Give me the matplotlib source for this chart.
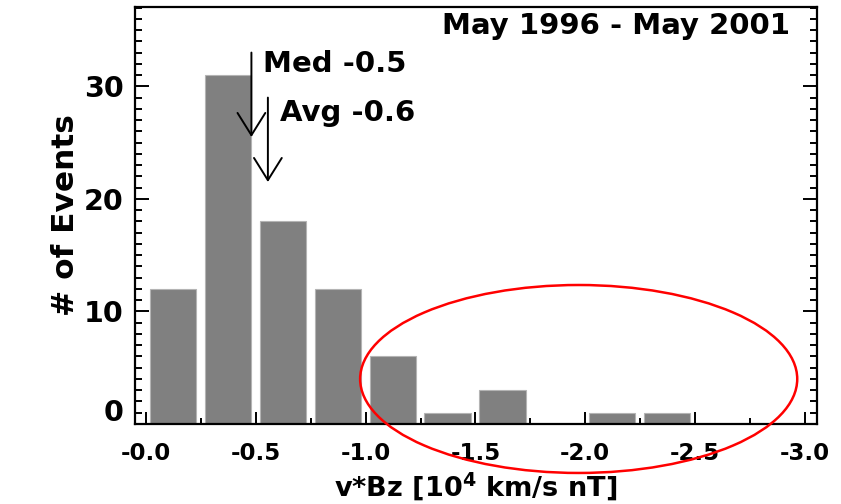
import matplotlib
matplotlib.use("Agg")
import matplotlib.pyplot as plt
from matplotlib.patches import Ellipse
from matplotlib.ticker import FixedLocator, MultipleLocator
import numpy as np

# ---- data ----
bin_edges = [0.0, -0.25, -0.5, -0.75, -1.0, -1.25, -1.5, -1.75, -2.0, -2.25, -2.5, -2.75]
counts = [12, 31, 18, 12, 6, 1, 3, 0, 1, 1, 0, 0]
xtick_vals = [0.0, -0.5, -1.0, -1.5, -2.0, -2.5, -3.0]
xtick_labels = ["-0.0", "-0.5", "-1.0", "-1.5", "-2.0", "-2.5", "-3.0"]
ytick_vals = [10, 20, 30]
ytick_labels = ["10", "20", "30"]
median_val = -0.48
avg_val = -0.555
title_text = "May 1996 - May 2001"

FONT = "DejaVu Sans"
fig = plt.figure(figsize=(8.41, 5.04), dpi=100)
ax = fig.add_axes([135/841, (504-424)/504, (817-135)/841, (424-7)/504])

centers = [e - 0.123 for e in bin_edges]
ax.bar(centers, counts, width=0.21, color="#808080", edgecolor="#b4b4b4",
       linewidth=0.8, zorder=1)

ax.set_xlim(0.05, -3.055)
ax.set_ylim(0, 37.05)

# ticks
ax.xaxis.set_major_locator(FixedLocator(xtick_vals))
ax.xaxis.set_minor_locator(MultipleLocator(0.25))
ax.set_xticklabels(xtick_labels)
ax.yaxis.set_major_locator(FixedLocator(ytick_vals))
ax.yaxis.set_minor_locator(MultipleLocator(1))
ax.set_yticklabels(ytick_labels)

ax.tick_params(axis="x", which="major", direction="in", length=9, width=1.4,
               top=False, bottom=True, pad=13, labelsize=16.5)
ax.tick_params(axis="x", which="minor", direction="in", length=4.5, width=1.4,
               top=False, bottom=True)
ax.tick_params(axis="y", which="major", direction="in", length=10, width=1.4,
               left=True, right=True, pad=8, labelsize=20.5)
ax.tick_params(axis="y", which="minor", direction="in", length=5, width=1.4,
               left=True, right=True)
for lab in ax.get_xticklabels() + ax.get_yticklabels():
    lab.set_fontweight("bold")
    lab.set_family(FONT)

# "0" label on the y axis, lifted slightly like the reference
ax.annotate("0", xy=(0, 0), xycoords=("axes fraction", "data"),
            xytext=(-8, 8), textcoords="offset points", ha="right", va="center",
            fontsize=20.5, fontweight="bold", family=FONT)

for s in ax.spines.values():
    s.set_linewidth(1.6)

ax.set_ylabel("# of Events", fontsize=22.5, fontweight="bold", family=FONT, labelpad=3)
ax.set_xlabel(r"v*Bz [10$^{\mathbf{4}}$ km/s nT]", fontsize=19.5, fontweight="bold",
              family=FONT, labelpad=4)

ax.text(0.96, 0.955, title_text, transform=ax.transAxes, ha="right", va="center",
        fontsize=21, fontweight="bold", family=FONT)

# arrows
arrow_kw = dict(arrowstyle="->,head_length=1.6,head_width=1.0", lw=1.4,
                color="black", mutation_scale=10, shrinkA=0, shrinkB=0)
ax.annotate("", xy=(median_val, 25.5), xytext=(median_val, 33.0), arrowprops=arrow_kw)
ax.annotate("", xy=(avg_val, 21.5), xytext=(avg_val, 29.0), arrowprops=arrow_kw)
ax.text(-0.533, 32.0, f"Med {-0.5}", ha="left", va="center", fontsize=21,
        fontweight="bold", family=FONT)
ax.text(-0.61, 27.6, f"Avg {-0.6}", ha="left", va="center", fontsize=21,
        fontweight="bold", family=FONT)

# red ellipse highlight
ell = Ellipse((-1.97, 4.0), width=1.99, height=16.7, fill=False, edgecolor="#ff0000",
              linewidth=1.8, clip_on=False, zorder=5)
ax.add_patch(ell)

fig.savefig("out.png", dpi=100)
